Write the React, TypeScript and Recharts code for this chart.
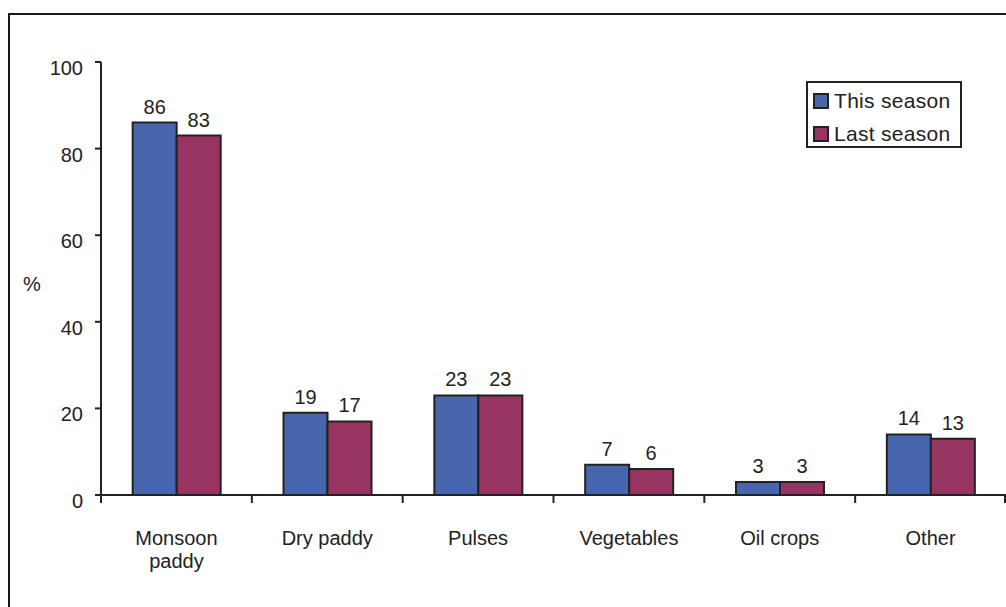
import React from 'react'
import { BarChart, Bar, XAxis, YAxis, LabelList } from 'recharts'

const categories = ['Monsoon paddy', 'Dry paddy', 'Pulses', 'Vegetables', 'Oil crops', 'Other']
const thisSeason = [86, 19, 23, 7, 3, 14]
const lastSeason = [83, 17, 23, 6, 3, 13]
const yTicks = [0, 20, 40, 60, 80, 100]

const data = categories.map((name, i) => ({
  name,
  thisSeason: thisSeason[i],
  lastSeason: lastSeason[i],
}))

const FONT = '"Liberation Sans", Arial, sans-serif'
const INK = '#222'
const BLUE = '#4866ae'
const MAROON = '#983462'

const W = 1006
const H = 607
const LEFT = 101
const BAND = (W - LEFT) / categories.length

function YTick(props: any) {
  const { x, y, payload } = props
  return (
    <text x={x} y={y + 13} textAnchor="end" fontSize={20} fill={INK} fontFamily={FONT}>
      {payload.value}
    </text>
  )
}

function XTick(props: any) {
  const { x, y, payload, index } = props
  const words = String(payload.value) === 'Monsoon paddy' ? ['Monsoon', 'paddy'] : [String(payload.value)]
  const left = x - BAND / 2
  return (
    <g>
      <line x1={left} y1={y} x2={left} y2={y + 8} stroke={INK} strokeWidth={2} />
      {index === categories.length - 1 && (
        <line x1={x + BAND / 2 - 1} y1={y} x2={x + BAND / 2 - 1} y2={y + 8} stroke={INK} strokeWidth={2} />
      )}
      {words.map((w, i) => (
        <text key={w} x={x} y={y + 50 + i * 23} textAnchor="middle" fontSize={20} fill={INK} fontFamily={FONT}>
          {w}
        </text>
      ))}
    </g>
  )
}

function LegendBox() {
  const rows = [
    { label: 'This season', color: BLUE },
    { label: 'Last season', color: MAROON },
  ]
  return (
    <div
      style={{
        position: 'absolute',
        left: 806,
        top: 81,
        width: 152,
        height: 63,
        border: `2px solid ${INK}`,
        background: '#fff',
        fontFamily: FONT,
        fontSize: 21,
        letterSpacing: 0.3,
        color: INK,
      }}
    >
      {rows.map((r, i) => (
        <div key={r.label} style={{ position: 'absolute', left: 5, top: 8 + i * 33, display: 'flex', alignItems: 'center', lineHeight: '20px', whiteSpace: 'nowrap' }}>
          <span style={{ width: 12, height: 12, background: r.color, border: `2px solid ${INK}`, display: 'inline-block', marginRight: 5 }} />
          <span>{r.label}</span>
        </div>
      ))}
    </div>
  )
}

export default function App() {
  return (
    <div style={{ position: 'absolute', left: 0, top: 0, width: W, height: H, overflow: 'hidden', background: '#fff' }}>
      <div
        style={{
          position: 'absolute',
          left: 8,
          top: 13,
          width: 1100,
          height: 700,
          border: `2px solid #1a1a1a`,
        }}
      />
      <div style={{ position: 'absolute', left: 23, top: 273, fontFamily: FONT, fontSize: 20, color: INK }}>%</div>
      <BarChart
        width={W}
        height={H}
        data={data}
        margin={{ top: 62, right: 0, left: 0, bottom: 0 }}
        barCategoryGap="21%"
        barGap={0}
        style={{ position: 'absolute', left: 0, top: 0 }}
      >
        <XAxis
          dataKey="name"
          height={112}
          axisLine={{ stroke: INK, strokeWidth: 2 }}
          tickLine={false}
          tickSize={0}
          tickMargin={0}
          tick={<XTick />}
          interval={0}
        />
        <YAxis
          width={LEFT}
          domain={[0, 100]}
          ticks={yTicks}
          axisLine={{ stroke: INK, strokeWidth: 2 }}
          tickLine={{ stroke: INK, strokeWidth: 2 }}
          tickSize={6}
          tickMargin={12}
          tick={<YTick />}
        />
        <Bar dataKey="thisSeason" name="This season" fill={BLUE} stroke={INK} strokeWidth={2} isAnimationActive={false}>
          <LabelList dataKey="thisSeason" position="top" offset={9} fontSize={20} fill={INK} fontFamily={FONT} />
        </Bar>
        <Bar dataKey="lastSeason" name="Last season" fill={MAROON} stroke={INK} strokeWidth={2} isAnimationActive={false}>
          <LabelList dataKey="lastSeason" position="top" offset={9} fontSize={20} fill={INK} fontFamily={FONT} />
        </Bar>
      </BarChart>
      <LegendBox />
    </div>
  )
}
